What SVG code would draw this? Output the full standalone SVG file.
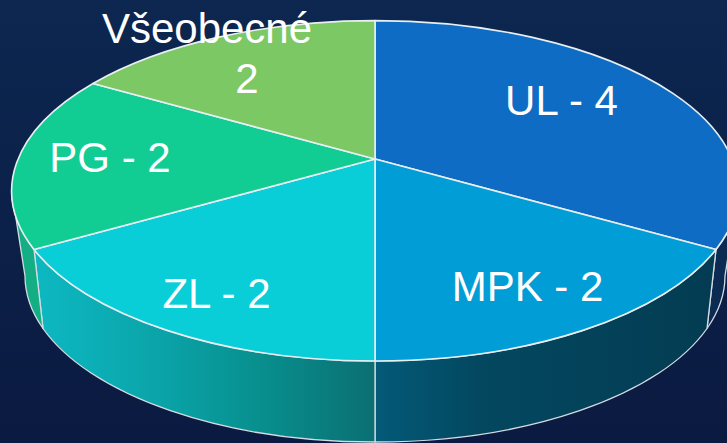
<svg xmlns="http://www.w3.org/2000/svg" width="727" height="443" viewBox="0 0 727 443">
  <defs>
    <linearGradient id="bg" x1="0" y1="0" x2="0" y2="1">
      <stop offset="0" stop-color="#0c2750"/>
      <stop offset="1" stop-color="#0b1a41"/>
    </linearGradient>
    <linearGradient id="zlSide" gradientUnits="userSpaceOnUse" x1="34" y1="0" x2="375" y2="0">
      <stop offset="0" stop-color="#0db8c2"/>
      <stop offset="0.35" stop-color="#0aa5aa"/>
      <stop offset="0.65" stop-color="#08908f"/>
      <stop offset="1" stop-color="#0b6f72"/>
    </linearGradient>
    <linearGradient id="mpkSide" gradientUnits="userSpaceOnUse" x1="375" y1="0" x2="716" y2="0">
      <stop offset="0" stop-color="#045a78"/>
      <stop offset="0.3" stop-color="#034860"/>
      <stop offset="1" stop-color="#033c52"/>
    </linearGradient>
    <style>
      .top { stroke: #e8eef2; stroke-width: 1.6; stroke-linejoin: round; }
      .side { stroke: #d4dce2; stroke-width: 1.3; stroke-linejoin: round; }
      .lbl { fill: #ffffff; font-family: "Liberation Sans", Arial, sans-serif; font-size: 42px; }
    </style>
  </defs>

  <rect x="0" y="0" width="727" height="443" fill="url(#bg)"/>

  <g id="slice-UL">
    <path class="side" fill="#0b2b52" d="M716,249.5 A363.3,170.2 0 0 0 738.3,190.8 L725,276 A350,166 0 0 1 707,328.5 Z"/>
    <path class="top" fill="#0f6cc4" d="M375,159 L375,20.6 A363.3,170.2 0 0 1 716,249.5 Z"/>
    <text class="lbl" x="561.5" y="115" text-anchor="middle">UL - 4</text>
  </g>

  <g id="slice-MPK">
    <path class="side" fill="url(#mpkSide)" d="M375,361 A363.3,170.2 0 0 0 716,249.5 L707,328.5 A350,166 0 0 1 375,442 Z"/>
    <path class="top" fill="#019dd6" d="M375,159 L716,249.5 A363.3,170.2 0 0 1 375,361 Z"/>
    <text class="lbl" x="527.5" y="301" text-anchor="middle">MPK - 2</text>
  </g>

  <g id="slice-ZL">
    <path class="side" fill="url(#zlSide)" d="M34,249.5 A363.3,170.2 0 0 0 375,361 L375,442 A350,166 0 0 1 43,328.5 Z"/>
    <path class="top" fill="#09cdd7" d="M375,159 L375,361 A363.3,170.2 0 0 1 34,249.5 Z"/>
    <text class="lbl" x="216.5" y="308" text-anchor="middle">ZL - 2</text>
  </g>

  <g id="slice-PG">
    <path class="side" fill="#14ae84" d="M34,249.5 L43,328.5 A350,166 0 0 1 25,276 L11.7,190.8 A363.3,170.2 0 0 0 34,249.5 Z"/>
    <path class="top" fill="#11cd94" d="M375,159 L34,249.5 A363.3,170.2 0 0 1 93,83.5 Z"/>
    <text class="lbl" x="110" y="172" text-anchor="middle">PG - 2</text>
  </g>

  <g id="slice-Vseobecne">
    <path class="top" fill="#7cc864" d="M375,159 L93,83.5 A363.3,170.2 0 0 1 375,20.6 Z"/>
    <text class="lbl" x="207" y="43" text-anchor="middle">Všeobecné</text>
    <text class="lbl" x="247" y="93" text-anchor="middle">2</text>
  </g>
</svg>
